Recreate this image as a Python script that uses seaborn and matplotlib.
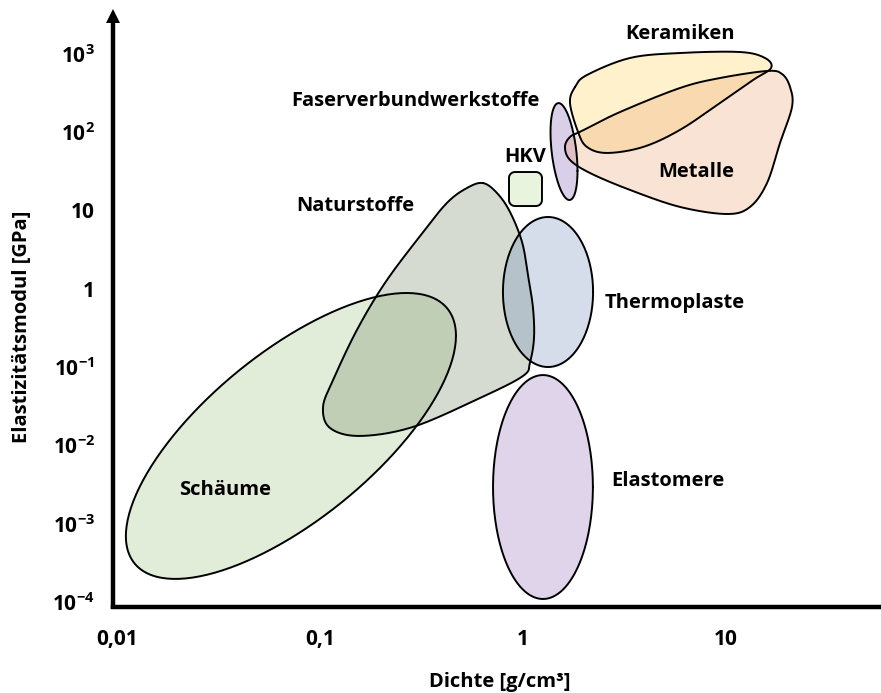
import numpy as np
import matplotlib
matplotlib.use("Agg")
import matplotlib.pyplot as plt
import seaborn as sns

# ---- axis ticks -------------------------------------------------------------
x_ticks = [0.01, 0.1, 1, 10]
x_tick_labels = ["0,01", "0,1", "1", "10"]
y_ticks = [1e-4, 1e-3, 1e-2, 1e-1, 1, 10, 1e2, 1e3]
y_tick_labels = [r"$10^{-4}$", r"$10^{-3}$", r"$10^{-2}$", r"$10^{-1}$",
                 "1", "10", r"$10^{2}$", r"$10^{3}$"]

# ---- elliptical material families (centre, half-span in decades, tilt) ------
ell_names = ["Schäume", "Thermoplaste", "Elastomere", "Faserverbundwerkstoffe"]
ell_density = [0.0719, 1.328, 1.254, 1.592]          # g/cm³
ell_modulus = [0.0132, 0.910, 0.00294, 56.6]          # GPa
ell_density_decades = [0.813, 0.222, 0.246, 0.0665]
ell_modulus_decades = [1.826, 0.958, 1.430, 0.619]
ell_tilt = [0.70, 0.0, 0.0, -0.40]

# ---- free-form families (outline points) ------------------------------------
natur_density = [0.635, 0.745, 0.863, 0.989, 1.058, 1.120, 1.133, 1.083, 1.0,
                 0.614, 0.287, 0.157, 0.112, 0.1035, 0.116, 0.152, 0.209,
                 0.311, 0.422, 0.530]
natur_modulus = [22.4, 16.7, 9.57, 3.96, 1.50, 0.569, 0.235, 0.116, 0.0770,
                 0.0403, 0.0172, 0.0132, 0.0167, 0.0309, 0.0684, 0.298, 1.19,
                 4.72, 12.5, 19.4]

keramik_density = [1.804, 2.067, 3.366, 5.934, 11.72, 15.56, 16.66, 13.59,
                   9.34, 5.934, 3.90, 2.593, 2.067, 1.866, 1.704]
keramik_modulus = [378, 538, 887, 1027, 1057, 887, 660, 464, 236, 107, 64.7,
                   54.3, 64.7, 101, 236]

metall_density = [1.610, 1.704, 1.952, 3.005, 5.934, 9.34, 15.92, 18.87, 20.67,
                  21.14, 18.45, 15.92, 13.13, 10.11, 5.934, 3.366, 2.138, 1.704]
metall_modulus = [64.7, 86.9, 104, 181, 367, 492, 605, 554, 378, 210, 72.8,
                  22.4, 11.1, 9.02, 11.1, 18.3, 30.1, 44.2]

hkv_density = [0.853, 1.240]
hkv_modulus = [11.4, 31.0]

# ---- region labels ----------------------------------------------------------
label_text = ["Keramiken", "Faserverbundwerkstoffe", "HKV", "Metalle",
              "Naturstoffe", "Thermoplaste", "Elastomere", "Schäume"]
label_density = [5.93, 0.294, 1.023, 7.11, 0.149, 5.61, 5.18, 0.0340]
label_modulus = [1795, 250, 48.2, 31.0, 11.4, 0.658, 0.00351, 0.00269]

colors = {
    "Schäume": "#8bbb6b",
    "Naturstoffe": "#5b734b",
    "Thermoplaste": "#5b7bb3",
    "Elastomere": "#8357af",
    "HKV": "#a7d77f",
    "Faserverbundwerkstoffe": "#6f43a7",
    "Keramiken": "#ffcb37",
    "Metalle": "#eb935b",
}
ALPHA = 0.25


def ellipse(cd, cm, hx, hy, rho, n=240):
    t = np.linspace(0, 2 * np.pi, n)
    lx = np.log10(cd) + hx * np.cos(t)
    ly = np.log10(cm) + hy * (rho * np.cos(t) + np.sqrt(1 - rho ** 2) * np.sin(t))
    return 10 ** lx, 10 ** ly


def closed_spline(xs, ys, n=24):
    P = np.column_stack([np.log10(xs), np.log10(ys)])
    m = len(P)
    t = np.linspace(0, 1, n, endpoint=False)[:, None]
    segs = []
    for i in range(m):
        p0, p1, p2, p3 = P[(i - 1) % m], P[i], P[(i + 1) % m], P[(i + 2) % m]
        segs.append(0.5 * (2 * p1 + (-p0 + p2) * t
                           + (2 * p0 - 5 * p1 + 4 * p2 - p3) * t ** 2
                           + (-p0 + 3 * p1 - 3 * p2 + p3) * t ** 3))
    out = np.vstack(segs + [segs[0][:1]])
    return 10 ** out[:, 0], 10 ** out[:, 1]


def rounded_box(xr, yr, rx=0.03, ry=0.075, n=12):
    x0, x1 = np.log10(xr)
    y0, y1 = np.log10(yr)
    pts = []
    for (cx, cy, a0) in [(x1 - rx, y1 - ry, 0), (x0 + rx, y1 - ry, 90),
                         (x0 + rx, y0 + ry, 180), (x1 - rx, y0 + ry, 270)]:
        a = np.deg2rad(np.linspace(a0, a0 + 90, n))
        pts.append(np.column_stack([cx + rx * np.cos(a), cy + ry * np.sin(a)]))
    pts = np.vstack(pts + [pts[0][:1]])
    return 10 ** pts[:, 0], 10 ** pts[:, 1]


sns.set_theme(style="white")
plt.rcParams["font.family"] = ["Open Sans", "DejaVu Sans"]
plt.rcParams["font.weight"] = "bold"
plt.rcParams["text.color"] = "black"
plt.rcParams["axes.labelcolor"] = "black"
plt.rcParams["mathtext.fontset"] = "custom"
plt.rcParams["mathtext.rm"] = "Open Sans:bold"
plt.rcParams["mathtext.bf"] = "Open Sans:bold"
plt.rcParams["mathtext.default"] = "bf"

fig = plt.figure(figsize=(8.81, 6.93), dpi=100)
W, H = 881, 693
ax = fig.add_axes([113 / W, (H - 607) / H, (W - 113) / W, (607 - 9) / H])
ax.set_xscale("log")
ax.set_yscale("log")
ax.set_xlim(10 ** -2.0197, 10 ** 1.7635)
ax.set_ylim(10 ** -4.064, 10 ** 3.5734)

shapes = []
shapes.append(("Schäume", ellipse(ell_density[0], ell_modulus[0],
                                   ell_density_decades[0], ell_modulus_decades[0], ell_tilt[0])))
shapes.append(("Naturstoffe", closed_spline(natur_density, natur_modulus)))
for i in (1, 2, 3):
    shapes.append((ell_names[i], ellipse(ell_density[i], ell_modulus[i],
                                         ell_density_decades[i], ell_modulus_decades[i], ell_tilt[i])))
shapes.append(("HKV", rounded_box(hkv_density, hkv_modulus)))
shapes.append(("Keramiken", closed_spline(keramik_density, keramik_modulus)))
shapes.append(("Metalle", closed_spline(metall_density, metall_modulus)))

for name, (xs, ys) in shapes:
    ax.fill(xs, ys, color=colors[name], alpha=ALPHA, lw=0, zorder=2)
for name, (xs, ys) in shapes:
    ax.plot(xs, ys, color="black", lw=1.4, zorder=3, solid_joinstyle="round")

for txt, d, m in zip(label_text, label_density, label_modulus):
    ax.text(d, m, txt, ha="center", va="center", fontsize=14.5,
            fontweight="bold", color="black", zorder=4)

# axes, ticks and the arrow on the ordinate
sns.despine(ax=ax, top=True, right=True, left=True)
ax.spines["bottom"].set_linewidth(3.2)
ax.spines["bottom"].set_color("black")
head = 14 / 598
ax.plot([0, 0], [-0.004, 1 - head], transform=ax.transAxes, color="black",
        lw=3.2, solid_capstyle="butt", clip_on=False, zorder=5)
hw = 7 / 768
ax.fill([-hw, hw, 0], [1 - head, 1 - head, 1], transform=ax.transAxes,
        color="black", clip_on=False, zorder=5, lw=0)

ax.set_xticks(x_ticks)
ax.set_xticklabels(x_tick_labels)
ax.set_yticks(y_ticks)
ax.set_yticklabels(y_tick_labels)
ax.minorticks_off()
ax.tick_params(axis="both", length=0, labelsize=15, colors="black")
ax.tick_params(axis="x", pad=16)
ax.tick_params(axis="y", pad=13)
for lab in ax.get_xticklabels() + ax.get_yticklabels():
    lab.set_fontweight("bold")

ax.set_xlabel("Dichte [g/cm³]", fontsize=14.5, fontweight="bold", color="black")
ax.set_ylabel("Elastizitätsmodul [GPa]", fontsize=14.5, fontweight="bold", color="black")
ax.xaxis.set_label_coords(0.504, -0.108)
ax.yaxis.set_label_coords(-0.105, 0.468)
ax.grid(False)

fig.savefig("out.png", dpi=100)
